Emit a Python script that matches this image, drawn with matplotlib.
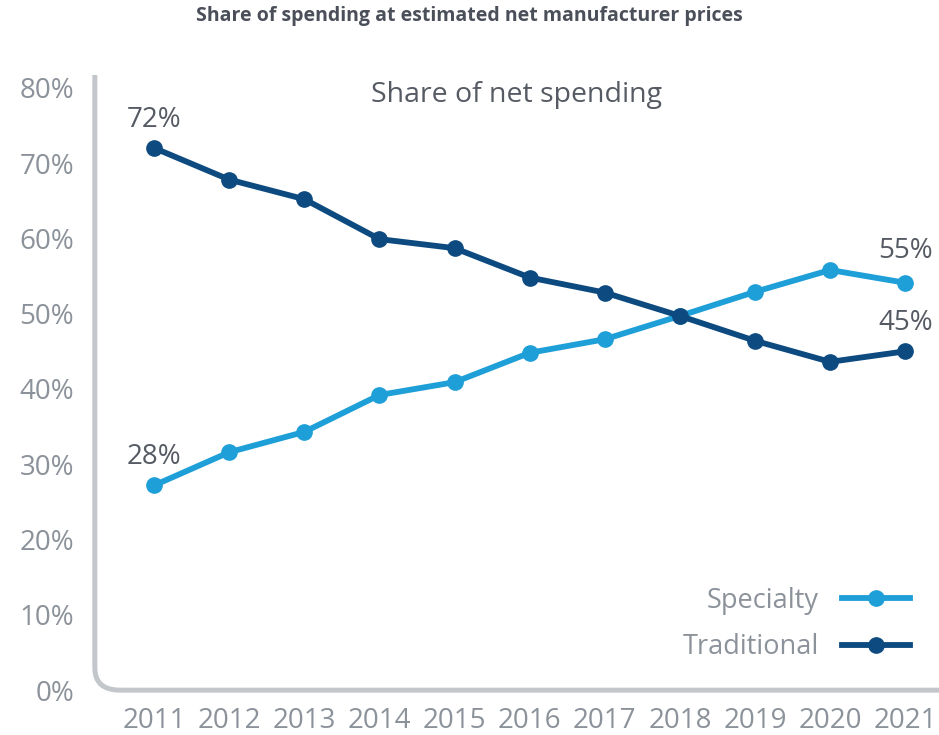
import numpy as np
import matplotlib.pyplot as plt
from matplotlib.path import Path
from matplotlib.patches import PathPatch

plt.rcParams['font.family'] = ['Open Sans', 'DejaVu Sans']

years = [2011, 2012, 2013, 2014, 2015, 2016, 2017, 2018, 2019, 2020, 2021]
specialty = [27.2, 31.6, 34.3, 39.2, 40.9, 44.8, 46.6, 49.7, 52.9, 55.8, 54.1]
traditional = [72.0, 67.8, 65.2, 59.9, 58.7, 54.8, 52.8, 49.7, 46.4, 43.6, 45.0]
yticks = [0, 10, 20, 30, 40, 50, 60, 70, 80]
# labels printed at the ends of the lines
spec_end_labels = ['28%', '55%']
trad_end_labels = ['72%', '45%']

c_spec = '#1e9fd8'
c_trad = '#0d4a80'
c_text = '#555a63'
c_tick = '#8c929a'
c_axis = '#c3c7cc'

fig = plt.figure(figsize=(9.39, 7.35), dpi=100)
ax = fig.add_axes([0.101, 0.061, 0.899, 0.837])

ax.plot(years, specialty, '-o', color=c_spec, lw=4.2, ms=11, label='Specialty')
ax.plot(years, traditional, '-o', color=c_trad, lw=4.2, ms=11, label='Traditional')

ax.set_xlim(2010.21, 2021.45)
ax.set_ylim(0, 81.7)
ax.set_yticks(yticks)
ax.set_yticklabels([f'{v}%' for v in yticks])
ax.set_xticks(years)
ax.tick_params(length=0, labelsize=20, colors=c_tick, pad=12)
ax.tick_params(axis='y', pad=15)
for s in ax.spines.values():
    s.set_visible(False)

# rounded L-shaped axis line
r = 0.03
verts = [(0, 1), (0, r * 1.2), (0, 0), (r, 0), (1, 0)]
codes = [Path.MOVETO, Path.LINETO, Path.CURVE3, Path.CURVE3, Path.LINETO]
ax.add_patch(PathPatch(Path(verts, codes), transform=ax.transAxes, fill=False,
                       ec=c_axis, lw=3.6, clip_on=False, capstyle='butt'))

# end labels
ann = dict(textcoords='offset points', ha='center', va='bottom', fontsize=20, color=c_text)
ax.annotate(trad_end_labels[0], (years[0], traditional[0]), xytext=(0, 10), **ann)
ax.annotate(spec_end_labels[0], (years[0], specialty[0]), xytext=(0, 10), **ann)
ax.annotate(spec_end_labels[1], (years[-1], specialty[-1]), xytext=(0, 13), **ann)
ax.annotate(trad_end_labels[1], (years[-1], traditional[-1]), xytext=(0, 10), **ann)

ax.text(0.5, 0.99, 'Share of net spending', transform=ax.transAxes, ha='center',
        va='top', fontsize=20.5, color=c_text)

leg = ax.legend(loc='lower right', bbox_to_anchor=(0.994, 0.007), frameon=False,
                markerfirst=False, handlelength=2.5, fontsize=19.5,
                labelspacing=0.7, handletextpad=0.85)
for t in leg.get_texts():
    t.set_color(c_tick)

fig.text(0.5, 0.978, 'Share of spending at estimated net manufacturer prices',
         ha='center', va='center', fontsize=14, fontweight='bold', color='#4a4f5a')

fig.savefig('out.png', dpi=100, facecolor='white')
